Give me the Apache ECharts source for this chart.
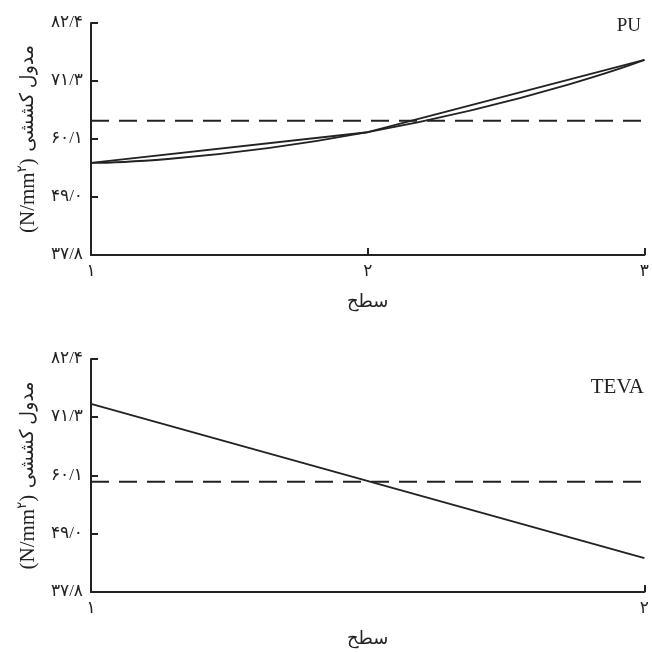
<!DOCTYPE html>
<html>
<head>
<meta charset="utf-8">
<script src="https://cdn.jsdelivr.net/npm/echarts@6/dist/echarts.min.js"></script>
<style>
  html, body { margin: 0; padding: 0; background: #fff; }
  #chart { width: 652px; height: 652px; }
</style>
</head>
<body>
<div id="chart"></div>
<script>
// سطح (levels)
const puLevels = [1, 2, 3]
const tevaLevels = [1, 2]
// مدول کششی values
const puLinear = [55.5, 61.4, 75.3]
const puCurve = [55.5, 61.4, 75.3]
const puMean = 63.6
const tevaLine = [73.8, 44.3]
const tevaMean = 58.9
// tick values and their labels
const yTicks = [37.8, 49.0, 60.1, 71.3, 82.4]
const yTickLabels = ['۳۷/۸', '۴۹/۰', '۶۰/۱', '۷۱/۳', '۸۲/۴']
const xTickLabels = { 1: '۱', 2: '۲', 3: '۳' }

const ink = '#222'
const font = 'Liberation Serif, DejaVu Sans, serif'

function pairs (xs, ys) {
  return xs.map((x, i) => [x, ys[i]])
}

function xAxisOpt (gridIndex, max) {
  return {
    type: 'value',
    gridIndex,
    min: 1,
    max,
    interval: 1,
    name: 'سطح',
    nameLocation: 'middle',
    nameGap: 38,
    nameTextStyle: { color: ink, fontSize: 18, fontFamily: font },
    axisLine: { lineStyle: { color: ink, width: 2 } },
    axisTick: { inside: true, length: 7, lineStyle: { color: ink, width: 2 } },
    axisLabel: {
      color: ink, fontSize: 17, fontFamily: font, margin: 8,
      formatter: v => xTickLabels[v] || ''
    },
    splitLine: { show: false }
  }
}

function yAxisOpt (gridIndex) {
  return {
    type: 'value',
    gridIndex,
    min: 37.8,
    max: 82.4,
    name: '{a|(N/mm}{s|۲}{a|)}  {p|مدول کششی}',
    nameLocation: 'middle',
    nameGap: 50,
    nameTextStyle: {
      color: ink,
      rich: {
        a: { fontSize: 21, fontFamily: font, color: ink },
        s: { fontSize: 13, fontFamily: font, color: ink, verticalAlign: 'top', padding: [0, 0, 12, 0] },
        p: { fontSize: 19, fontFamily: font, color: ink }
      }
    },
    axisLine: { show: true, lineStyle: { color: ink, width: 2 } },
    axisTick: { show: true, inside: true, length: 7, customValues: yTicks, lineStyle: { color: ink, width: 2 } },
    axisLabel: {
      color: ink, fontSize: 17, fontFamily: font, margin: 8,
      customValues: yTicks,
      formatter: v => {
        const i = yTicks.findIndex(t => Math.abs(t - v) < 1e-6)
        return i >= 0 ? yTickLabels[i] : ''
      }
    },
    splitLine: { show: false }
  }
}

const solid = { color: ink, width: 1.8 }
const dashed = { color: ink, width: 2, type: [18, 10] }

const option = {
  animation: false,
  backgroundColor: '#fff',
  title: [
    { text: 'PU', right: 6, top: 12, textStyle: { color: ink, fontSize: 19, fontWeight: 'normal', fontFamily: font } },
    { text: 'TEVA', right: 3, top: 372, textStyle: { color: ink, fontSize: 21, fontWeight: 'normal', fontFamily: font } }
  ],
  grid: [
    { left: 91, right: 5, top: 23, height: 232 },
    { left: 91, right: 5, top: 359, height: 233 }
  ],
  xAxis: [xAxisOpt(0, 3), xAxisOpt(1, 2)],
  yAxis: [yAxisOpt(0), yAxisOpt(1)],
  series: [
    {
      type: 'line', xAxisIndex: 0, yAxisIndex: 0, symbol: 'none',
      data: pairs(puLevels, puLinear), lineStyle: solid
    },
    {
      type: 'line', xAxisIndex: 0, yAxisIndex: 0, symbol: 'none', smooth: 0.6,
      data: pairs(puLevels, puCurve), lineStyle: solid
    },
    {
      type: 'line', xAxisIndex: 0, yAxisIndex: 0, symbol: 'none',
      data: [[1, puMean], [3, puMean]], lineStyle: dashed
    },
    {
      type: 'line', xAxisIndex: 1, yAxisIndex: 1, symbol: 'none',
      data: pairs(tevaLevels, tevaLine), lineStyle: solid
    },
    {
      type: 'line', xAxisIndex: 1, yAxisIndex: 1, symbol: 'none',
      data: [[1, tevaMean], [2, tevaMean]], lineStyle: dashed
    }
  ]
}

const chart = echarts.init(document.getElementById('chart'))
chart.setOption(option)
</script>
</body>
</html>
